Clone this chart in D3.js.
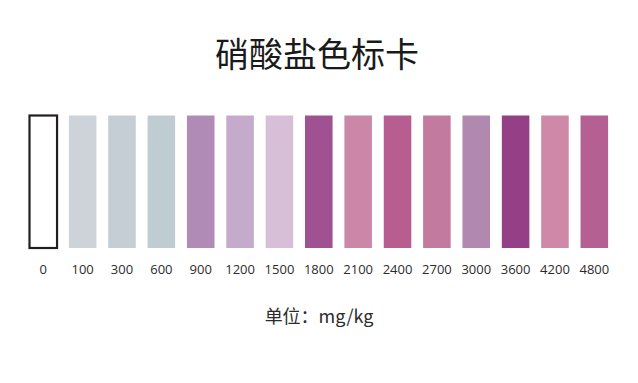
<!DOCTYPE html>
<meta charset="utf-8">
<head>
  <title>硝酸盐色标卡</title>
</head>
<style>
body {
  margin: 0;
  background: #fff;
  font-family: "Noto Sans CJK SC", "Noto Sans", sans-serif;
}
</style>
<body>
  <div id="content"></div>
  <script src="https://cdnjs.cloudflare.com/ajax/libs/d3/7.8.5/d3.min.js"></script>
  <script>

// values in mg/kg and the colour of each swatch
var levels = ['0', '100', '300', '600', '900', '1200', '1500', '1800', '2100', '2400', '2700', '3000', '3600', '4200', '4800'];
var swatchColors = ['#ffffff', '#cdd3d8', '#c5ced4', '#bfcdd3', '#b08bb5', '#c5abcb', '#d7bfd8', '#a05191',
  '#cb87a8', '#b85d90', '#c27a9e', '#b088b0', '#943f86', '#cf88a8', '#b46093'];
var title = '硝酸盐色标卡';
var unitLabel = '单位：mg/kg';

var width = 638, height = 383;

var svg = d3.select('#content').append('svg')
  .attr('width', width)
  .attr('height', height);

var x = d3.scaleBand()
  .domain(levels)
  .range([29.5, 608.1])
  .paddingInner(0.3)
  .paddingOuter(0);

var swatchTop = 115.5, swatchBottom = 248;

//swatches
svg.append('g')
  .selectAll('rect')
  .data(levels)
  .enter().append('rect')
  .attr('x', function(d) { return x(d); })
  .attr('y', swatchTop)
  .attr('width', x.bandwidth())
  .attr('height', swatchBottom - swatchTop)
  .attr('fill', function(d, i) { return swatchColors[i]; })
  .attr('stroke', function(d, i) { return i === 0 ? '#231f20' : 'none'; })
  .attr('stroke-width', 2.2);

//labels under each swatch
var axis = svg.append('g')
  .attr('transform', 'translate(0,' + 265 + ')')
  .call(d3.axisBottom(x).tickSize(0).tickPadding(0));
axis.select('.domain').remove();
axis.selectAll('text')
  .attr('font-family', '"Open Sans", "Noto Sans", sans-serif')
  .attr('font-size', 13)
  .attr('fill', '#2b2b2b');

svg.append('text')
  .attr('x', 317)
  .attr('y', 67)
  .attr('text-anchor', 'middle')
  .attr('font-size', 34)
  .attr('fill', '#1a1a1a')
  .text(title);

svg.append('text')
  .attr('x', 319)
  .attr('y', 323)
  .attr('text-anchor', 'middle')
  .attr('font-size', 18)
  .attr('fill', '#2b2b2b')
  .text(unitLabel);
</script>
</body>
</html>
